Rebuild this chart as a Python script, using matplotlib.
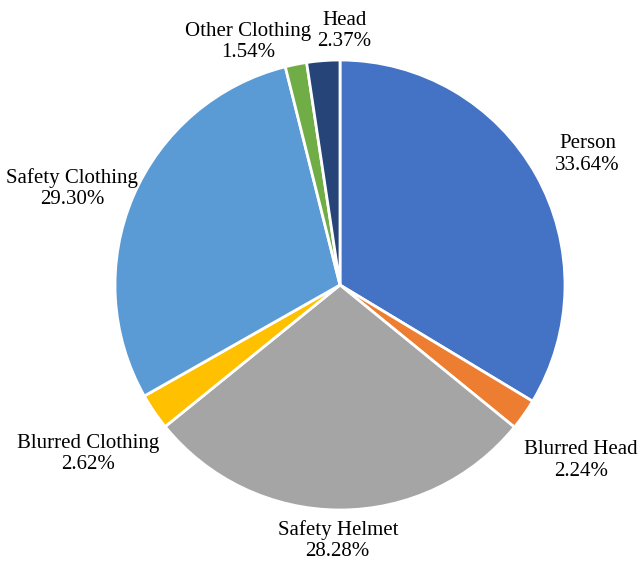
import matplotlib.pyplot as plt

plt.rcParams['font.family'] = ['Liberation Serif', 'DejaVu Serif']

# Data
categories = ['Person', 'Blurred Head', 'Safety Helmet', 'Blurred Clothing',
              'Safety Clothing', 'Other Clothing', 'Head']
shares = [33.64, 2.24, 28.28, 2.62, 29.30, 1.54, 2.37]
colors = ['#4472C4', '#ED7D31', '#A5A5A5', '#FFC000', '#5B9BD5', '#70AD47', '#264478']

# label positions (in pie-radius units)
label_pos = [(1.10, 0.58), (1.07, -0.78), (-0.01, -1.135), (-1.12, -0.75),
             (-1.19, 0.428), (-0.41, 1.08), (0.02, 1.13)]

fig = plt.figure(figsize=(6.4, 5.64), dpi=100)
ax = fig.add_axes([115 / 640, (564 - 285 - 225) / 564, 450 / 640, 450 / 564])

wedges, _ = ax.pie(shares, colors=colors, startangle=90, counterclock=False,
                   radius=1, wedgeprops=dict(edgecolor='white', linewidth=2))

for name, val, (x, y) in zip(categories, shares, label_pos):
    ax.text(x, y, f'{name}\n{val:.2f}%', ha='center', va='center',
            fontsize=15, linespacing=1.15)

ax.set_xlim(-1, 1)
ax.set_ylim(-1, 1)
ax.set_aspect('equal')
ax.axis('off')

fig.savefig('out.png', dpi=100)
